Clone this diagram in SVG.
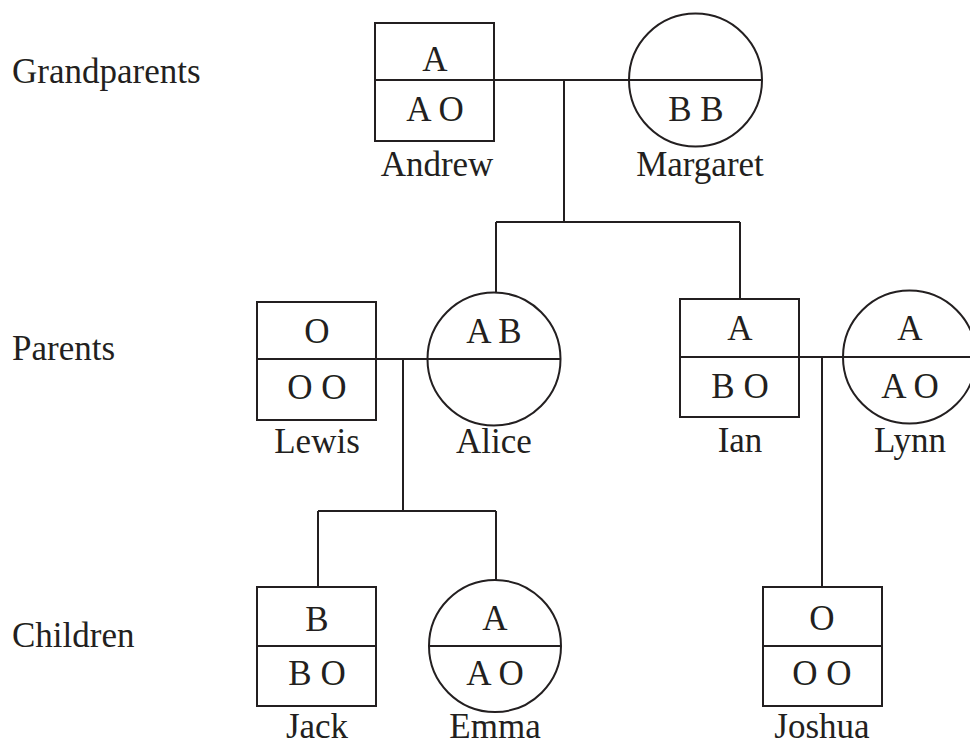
<svg xmlns="http://www.w3.org/2000/svg" width="970" height="745" viewBox="0 0 970 745">
<style>
.s{fill:none;stroke:#231f20;stroke-width:2}
text{font-family:"Liberation Serif","Times New Roman",serif;font-size:35px;fill:#231f20;text-anchor:middle}
.g{text-anchor:start}
</style>
<rect width="970" height="745" fill="#fff"/>
<text class="g" x="12" y="83">Grandparents</text>
<text class="g" x="12" y="360">Parents</text>
<text class="g" x="12" y="647">Children</text>
<g id="connectors" class="s">
<path d="M494 80H629M564 80V222M496 222H740M496 222V293M740 222V299"/>
<path d="M376 359H427M403 359V511M318 511H496M318 511V587M496 511V580"/>
<path d="M799 357H843M822 357V587"/>
</g>
<g id="andrew"><rect class="s" x="375" y="23" width="119" height="118"/><path class="s" d="M375 80H494"/><text x="435" y="71">A</text><text x="435" y="121">A O</text><text x="437" y="176">Andrew</text></g>
<g id="margaret"><circle class="s" cx="695.5" cy="80" r="66.5"/><path class="s" d="M629 80H762"/><text x="696" y="121">B B</text><text x="700" y="176">Margaret</text></g>
<g id="lewis"><rect class="s" x="257" y="302" width="119" height="118"/><path class="s" d="M257 359H376"/><text x="317" y="343">O</text><text x="317" y="399">O O</text><text x="317" y="453">Lewis</text></g>
<g id="alice"><circle class="s" cx="494" cy="359" r="66.5"/><path class="s" d="M427 359H560"/><text x="494" y="343">A B</text><text x="494" y="453">Alice</text></g>
<g id="ian"><rect class="s" x="680" y="299" width="119" height="118"/><path class="s" d="M680 357H799"/><text x="740" y="340">A</text><text x="740" y="398">B O</text><text x="740" y="452">Ian</text></g>
<g id="lynn"><circle class="s" cx="909.5" cy="357" r="66.5"/><path class="s" d="M843 357H970"/><text x="910" y="340">A</text><text x="910" y="398">A O</text><text x="910" y="452">Lynn</text></g>
<g id="jack"><rect class="s" x="257" y="587" width="119" height="119"/><path class="s" d="M257 646H376"/><text x="317" y="631">B</text><text x="317" y="685">B O</text><text x="317" y="738">Jack</text></g>
<g id="emma"><circle class="s" cx="495" cy="646" r="66"/><path class="s" d="M429 646H561"/><text x="495" y="630">A</text><text x="495" y="685">A O</text><text x="495" y="738">Emma</text></g>
<g id="joshua"><rect class="s" x="763" y="587" width="119" height="119"/><path class="s" d="M763 646H882"/><text x="822" y="630">O</text><text x="822" y="685">O O</text><text x="822" y="738">Joshua</text></g>
</svg>
